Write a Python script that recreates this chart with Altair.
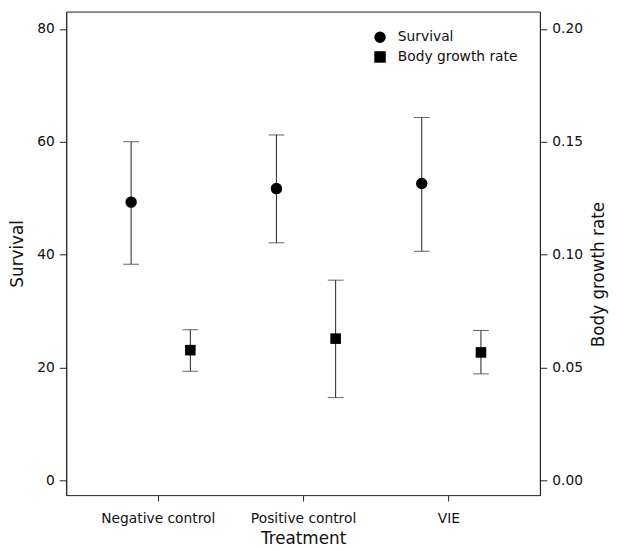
import altair as alt
import pandas as pd

treatments = ["Negative control", "Positive control", "VIE"]
series = ["Survival", "Body growth rate"]

survival_mean = [49.3, 51.7, 52.6]
survival_low = [38.3, 42.1, 40.6]
survival_high = [60.0, 61.2, 64.3]

growth_mean = [0.0577, 0.0628, 0.0567]
growth_low = [0.0484, 0.0367, 0.0472]
growth_high = [0.0667, 0.0887, 0.0664]

left_ticks = [0, 20, 40, 60, 80]
right_ticks = [0.0, 0.05, 0.10, 0.15, 0.20]

surv_df = pd.DataFrame({
    "Treatment": treatments,
    "series": series[0],
    "mean": survival_mean,
    "low": survival_low,
    "high": survival_high,
})
grow_df = pd.DataFrame({
    "Treatment": treatments,
    "series": series[1],
    "mean": growth_mean,
    "low": growth_low,
    "high": growth_high,
})

FONT = "DejaVu Sans"

x_enc = alt.X(
    "Treatment:N",
    sort=treatments,
    scale=alt.Scale(type="point", padding=0.63),
    axis=alt.Axis(title="Treatment", labelAngle=0, tickSize=6, labelPadding=11,
                  titlePadding=5, domain=False),
)

shape_enc = alt.Shape(
    "series:N",
    scale=alt.Scale(domain=series, range=["circle", "square"]),
    legend=alt.Legend(orient="none", legendX=311, legendY=19, title=None,
                      labelFontSize=14, labelFont=FONT, labelColor="#111",
                      symbolSize=135, symbolFillColor="black",
                      symbolStrokeColor="black", symbolStrokeWidth=0,
                      rowPadding=6, labelOffset=11, padding=0),
)

def group(df, domain, ticks, fmt, title, orient, off, size, tpad, tbase, ty):
    yscale = alt.Scale(domain=domain, nice=False, zero=False)
    yaxis = alt.Axis(title=title, orient=orient, values=ticks, format=fmt,
                     tickSize=7, labelPadding=5, titlePadding=tpad,
                     titleAngle=270, titleBaseline=tbase, titleY=ty, grid=False)
    base = alt.Chart(df)
    rule = base.mark_rule(color="#222", strokeWidth=1, xOffset=off).encode(
        x=x_enc,
        y=alt.Y("low:Q", scale=yscale, axis=yaxis),
        y2="high:Q",
    )
    cap_lo = base.mark_tick(color="#222", thickness=1, size=16, orient="horizontal",
                            xOffset=off).encode(
        x=x_enc, y=alt.Y("low:Q", scale=yscale, axis=yaxis))
    cap_hi = base.mark_tick(color="#222", thickness=1, size=16, orient="horizontal",
                            xOffset=off).encode(
        x=x_enc, y=alt.Y("high:Q", scale=yscale, axis=yaxis))
    pts = base.mark_point(filled=True, color="black", opacity=1, size=size,
                          xOffset=off).encode(
        x=x_enc, y=alt.Y("mean:Q", scale=yscale, axis=yaxis), shape=shape_enc)
    return alt.layer(rule, cap_lo, cap_hi, pts)

left = group(surv_df, [-2.6, 83.06], left_ticks, "d", "Survival", "left",
             -27, 135, 10, "bottom", 245)
right = group(grow_df, [-0.0065, 0.20765], right_ticks, ".2f", "Body growth rate",
              "right", 33, 115, 8, "top", 266)

chart = alt.layer(left, right).resolve_scale(y="independent").properties(
    width=480, height=490,
    autosize=alt.AutoSizeParams(type="none"),
    padding={"left": 59, "top": 0, "right": 70, "bottom": 52},
).configure_view(
    stroke="#222", strokeWidth=1
).configure_axis(
    labelFont=FONT, titleFont=FONT, labelFontSize=14, titleFontSize=17,
    titleFontWeight="normal", labelColor="#111", titleColor="#111",
    domainColor="#222", tickColor="#222", grid=False,
)

chart.save("out.html", embed_options={"renderer": "svg", "actions": False})
